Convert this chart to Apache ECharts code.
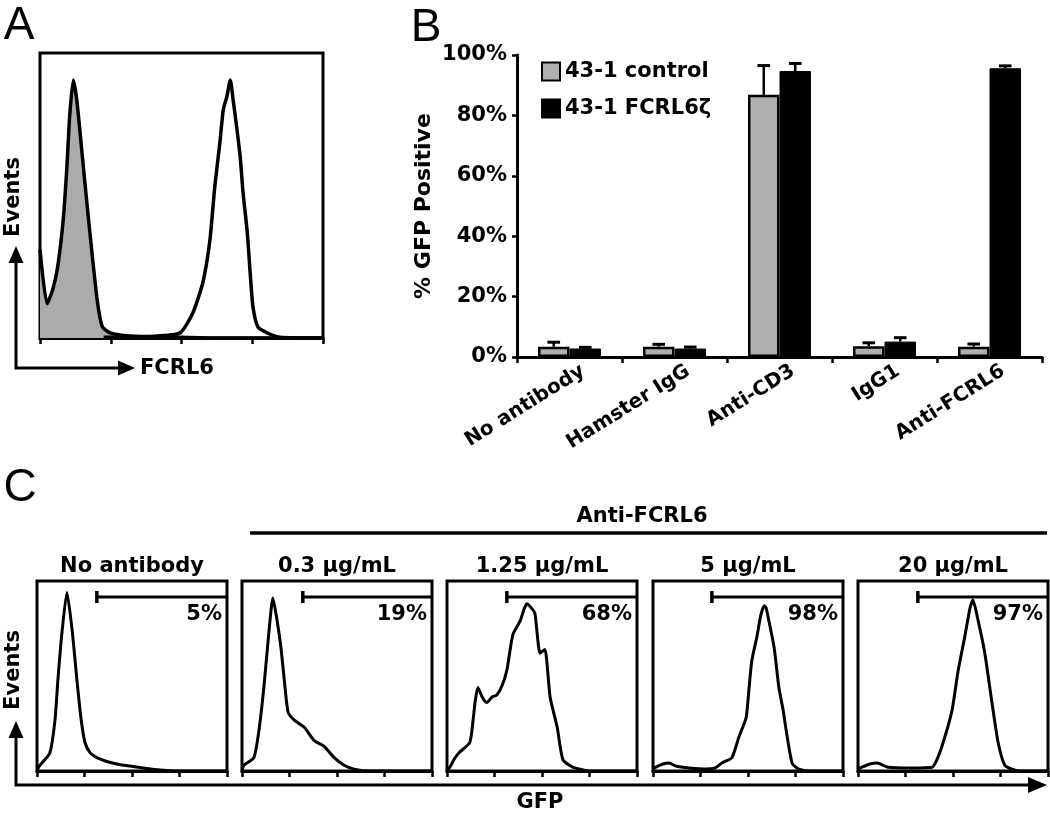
<!DOCTYPE html>
<html><head><meta charset="utf-8">
<script src="https://cdn.jsdelivr.net/npm/echarts@6/dist/echarts.min.js"></script>
<style>html,body{margin:0;padding:0;background:#fff}#c{width:1050px;height:814px}</style>
</head><body><div id="c"></div>
<script>
// ---------- Panel A: FCRL6 staining histograms (x in log10 decades, y in % of box height)
const aControl = [[0,31],[0.1,12],[0.18,17],[0.25,25],[0.33,42],[0.38,60],[0.42,78],[0.47,90.5],[0.52,83.5],[0.59,66],[0.66,48],[0.73,31],[0.81,13],[0.88,4],[0.99,1.8],[1.27,0.7],[1.9,0.3],[2.5,0],[4,0]];
const aFcrl6 = [[0.9,0.3],[1.6,0.6],[1.98,1.8],[2.16,8.8],[2.3,19.3],[2.4,34],[2.47,53],[2.54,68],[2.59,80],[2.64,84.6],[2.69,90.5],[2.73,83.5],[2.78,74],[2.83,63.5],[2.87,51],[2.93,37],[2.97,23],[3.01,11],[3.08,3.9],[3.21,1.8],[3.39,0.3],[4,0]];

// ---------- Panel B: % GFP positive
const bCategories = ['No antibody','Hamster IgG','Anti-CD3','IgG1','Anti-FCRL6'];
const bSeriesNames = ['43-1 control','43-1 FCRL6ζ'];
const bControl = [3.4,3.4,86.8,3.6,3.4];
const bControlErr = [4.9,4.2,96.5,4.7,4.3];
const bFcrl6 = [2.8,2.8,94.7,5.1,95.6];
const bFcrl6Err = [3.2,3.3,97.2,6.4,96.4];

// ---------- Panel C: GFP histograms at anti-FCRL6 doses
const cTitles = ['No antibody','0.3 μg/mL','1.25 μg/mL','5 μg/mL','20 μg/mL'];
const cPercents = ['5%','19%','68%','98%','97%'];
const cGateStart = [1.26,1.28,1.26,1.24,1.26];
const cGateLevel = 91.6;
const cHist0 = [[0,0.5],[0.06,3],[0.27,9.5],[0.38,27],[0.44,48],[0.53,74],[0.63,94],[0.74,74],[0.84,48],[0.93,27],[1.01,15],[1.12,9.5],[1.26,7],[1.47,5],[1.68,3.7],[1.96,2.6],[2.23,1.6],[2.6,0.5],[3,0],[4,0]];
const cHist1 = [[0,0.5],[0.04,3],[0.25,7],[0.36,22],[0.46,44],[0.57,74],[0.65,91],[0.74,79],[0.82,65],[0.91,43],[0.97,31],[1.09,27],[1.31,23],[1.52,16],[1.73,13],[1.94,7],[2.15,3],[2.36,1],[2.7,0],[4,0]];
const cHist2 = [[0,0.5],[0.06,2],[0.17,7],[0.27,10],[0.48,15],[0.55,27],[0.59,36],[0.65,44],[0.74,39],[0.84,36],[0.95,39],[1.05,40],[1.16,45],[1.26,53],[1.33,64],[1.39,72],[1.54,79],[1.62,85],[1.68,88],[1.77,86],[1.85,83],[1.96,62],[2.06,64],[2.17,39],[2.32,23],[2.44,6],[2.65,2],[2.8,1],[3,0],[4,0]];
const cHist3 = [[0,1],[0.06,2],[0.21,3.7],[0.34,4.2],[0.48,2.6],[0.76,1.6],[1.12,1],[1.31,1.6],[1.45,4.2],[1.66,7],[1.81,18],[1.96,28],[2.02,43],[2.08,58],[2.19,71],[2.27,82],[2.34,87],[2.38,86],[2.44,79],[2.55,65],[2.65,44],[2.74,32],[2.8,22],[2.93,4],[3.07,1],[3.3,0],[4,0]];
const cHist4 = [[0,1],[0.08,2],[0.25,3.7],[0.4,4.2],[0.63,2],[1.14,1.6],[1.56,2],[1.68,7],[1.83,18],[1.98,32],[2.11,53],[2.25,71],[2.36,86],[2.42,90],[2.53,79],[2.67,62],[2.82,36],[2.95,15],[3.09,3],[3.24,1],[3.4,0],[4,0]];
const cHists = [cHist0,cHist1,cHist2,cHist3,cHist4];

// ---------- layout
const FONT = "'DejaVu Sans', sans-serif";
const boldTxt = (size) => ({fontFamily: FONT, fontWeight: 'bold', fontSize: size, color: '#000'});
const cLefts = [37, 242, 447, 653, 858];
const cTop = 581, cW = 190, cH = 190;

const grids = [], xAxes = [], yAxes = [], series = [];

function histAxes(gi) {
  xAxes.push({gridIndex: gi, type: 'value', min: 0, max: 4, interval: 1,
    axisLine: {show: true, lineStyle: {color: '#000', width: 3}},
    axisTick: {show: true, length: 6, inside: false, lineStyle: {color: '#000', width: 2.5}},
    axisLabel: {show: false}, splitLine: {show: false}});
  yAxes.push({gridIndex: gi, type: 'value', min: 0, max: 100,
    axisLine: {show: false}, axisTick: {show: false}, axisLabel: {show: false}, splitLine: {show: false}});
}

// Panel A grid (index 0)
grids.push({left: 40, top: 53, width: 283, height: 285, show: true, borderColor: '#000', borderWidth: 3, backgroundColor: 'transparent'});
histAxes(0);
series.push({type: 'line', xAxisIndex: 0, yAxisIndex: 0, data: aControl, showSymbol: false, smooth: 0.2,
  lineStyle: {color: '#000', width: 3.5}, areaStyle: {color: '#ababab', opacity: 1}, z: 3});
series.push({type: 'line', xAxisIndex: 0, yAxisIndex: 0, data: aFcrl6, showSymbol: false, smooth: 0.2,
  lineStyle: {color: '#000', width: 3.5}, z: 4});

// Panel B grid (index 1)
grids.push({left: 517, top: 55, width: 525, height: 302, show: false});
xAxes.push({gridIndex: 1, type: 'category', data: bCategories, boundaryGap: true,
  axisLine: {show: true, lineStyle: {color: '#000', width: 3}},
  axisTick: {show: true, length: 6, lineStyle: {color: '#000', width: 2.5}},
  axisLabel: Object.assign(boldTxt(20), {rotate: 32, margin: 21, interval: 0,
    formatter: v => '{a|' + v + '}',
    rich: {a: Object.assign(boldTxt(20), {padding: [0, -16, 0, 0]})}})});
yAxes.push({gridIndex: 1, type: 'value', min: 0, max: 100, interval: 20,
  name: '% GFP Positive', nameLocation: 'middle', nameRotate: 90, nameGap: 82,
  nameTextStyle: boldTxt(22),
  axisLine: {show: true, lineStyle: {color: '#000', width: 3}},
  axisTick: {show: true, length: 5, lineStyle: {color: '#000', width: 2.5}},
  axisLabel: Object.assign(boldTxt(21), {formatter: '{value}%', margin: 10}),
  splitLine: {show: false}});
series.push({type: 'bar', name: bSeriesNames[0], xAxisIndex: 1, yAxisIndex: 1, data: bControl,
  barGap: '0%', barCategoryGap: '40%',
  itemStyle: {color: '#b0b0b0', borderColor: '#000', borderWidth: 2.5}});
series.push({type: 'bar', name: bSeriesNames[1], xAxisIndex: 1, yAxisIndex: 1, data: bFcrl6,
  barGap: '0%', barCategoryGap: '40%',
  itemStyle: {color: '#000', borderColor: '#000', borderWidth: 1}});
function errSeries(vals, errs, side) {
  return {type: 'custom', xAxisIndex: 1, yAxisIndex: 1, z: 10,
    data: vals.map((v, i) => [i, errs[i], v]),
    renderItem: function (params, api) {
      const top = api.coord([api.value(0), api.value(1)]);
      const base = api.coord([api.value(0), api.value(2)]);
      const bw = api.size([1, 0])[0];
      const x = top[0] + side * bw * 0.15;
      const cap = bw * 0.06;
      return {type: 'group', children: [
        {type: 'line', shape: {x1: x, y1: base[1], x2: x, y2: top[1]}, style: {stroke: '#000', lineWidth: 2.5}},
        {type: 'line', shape: {x1: x - cap, y1: top[1], x2: x + cap, y2: top[1]}, style: {stroke: '#000', lineWidth: 3}}
      ]};
    }};
}
series.push(errSeries(bControl, bControlErr, -1));
series.push(errSeries(bFcrl6, bFcrl6Err, 1));

// Panel C grids (index 2..6)
cHists.forEach((h, k) => {
  const gi = 2 + k;
  grids.push({left: cLefts[k], top: cTop, width: cW, height: cH, show: true, borderColor: '#000', borderWidth: 3, backgroundColor: 'transparent'});
  histAxes(gi);
  series.push({type: 'line', xAxisIndex: gi, yAxisIndex: gi, data: h, showSymbol: false, smooth: 0.2,
    lineStyle: {color: '#000', width: 3}});
  series.push({type: 'line', xAxisIndex: gi, yAxisIndex: gi, data: [[cGateStart[k], cGateLevel], [4, cGateLevel]],
    showSymbol: false, lineStyle: {color: '#000', width: 3}});
  series.push({type: 'line', xAxisIndex: gi, yAxisIndex: gi, data: [[cGateStart[k], cGateLevel - 3.2], [cGateStart[k], cGateLevel + 3.2]],
    showSymbol: false, lineStyle: {color: '#000', width: 3.5}});
  series.push({type: 'scatter', xAxisIndex: gi, yAxisIndex: gi, data: [[4, 82.6]], symbolSize: 0,
    itemStyle: {opacity: 1, color: '#000'},
    label: Object.assign(boldTxt(21), {show: true, position: 'left', distance: 5, opacity: 1, formatter: cPercents[k]})});
});

// ---------- annotations
function txt(text, x, y, size, opts) {
  opts = opts || {};
  return {type: 'text', x: x, y: y, rotation: opts.rot || 0, z: 20,
    style: {text: text, x: 0, y: 0, font: (opts.weight || 'bold') + ' ' + size + 'px ' + (opts.family || FONT),
      fill: '#000', align: opts.align || 'center', verticalAlign: 'middle',
      textAlign: opts.align || 'center', textVerticalAlign: 'middle'}};
}
function arrowL(pts, headV, headH) {
  return [
    {type: 'polyline', shape: {points: pts}, style: {stroke: '#000', lineWidth: 3, fill: null}, z: 20},
    {type: 'polygon', shape: {points: headV}, style: {fill: '#000'}, z: 20},
    {type: 'polygon', shape: {points: headH}, style: {fill: '#000'}, z: 20}
  ];
}
const graphics = [];
const LETTER = {weight: 'normal', family: "'Liberation Sans', Arial, sans-serif"};
graphics.push(txt('A', 19, 26, 46, LETTER));
graphics.push(txt('B', 426, 28, 46, LETTER));
graphics.push(txt('C', 20, 488, 46, LETTER));
// Panel A axes arrows
graphics.push(...arrowL([[16, 258], [16, 368], [122, 368]],
  [[16, 246], [8.5, 263], [23.5, 263]], [[135, 368], [118, 360.5], [118, 375.5]]));
graphics.push(txt('Events', 14, 197, 21, {rot: Math.PI / 2}));
graphics.push(txt('FCRL6', 140, 369, 21, {align: 'left'}));
// Panel C headings and axes
graphics.push({type: 'line', shape: {x1: 250, y1: 533, x2: 1047, y2: 533}, style: {stroke: '#000', lineWidth: 3.5}, z: 20});
graphics.push(txt('Anti-FCRL6', 642, 517, 21));
cTitles.forEach((t, k) => graphics.push(txt(t, cLefts[k] + cW / 2, 567, 21)));
graphics.push(...arrowL([[16, 734], [16, 785], [1032, 785]],
  [[16, 721], [8.5, 738], [23.5, 738]], [[1047, 785], [1028, 777], [1028, 793]]));
graphics.push(txt('Events', 14, 670, 21, {rot: Math.PI / 2}));
graphics.push(txt('GFP', 540, 803, 21));

const chart = echarts.init(document.getElementById('c'), null, {renderer: 'canvas'});
chart.setOption({
  animation: false,
  backgroundColor: '#fff',
  textStyle: {fontFamily: FONT},
  legend: {show: true, data: bSeriesNames, orient: 'vertical', left: 536, top: 56,
    itemWidth: 18, itemHeight: 18, itemGap: 16, icon: 'rect',
    textStyle: Object.assign(boldTxt(21), {lineHeight: 20})},
  grid: grids, xAxis: xAxes, yAxis: yAxes, series: series, graphic: graphics
});
</script></body></html>
